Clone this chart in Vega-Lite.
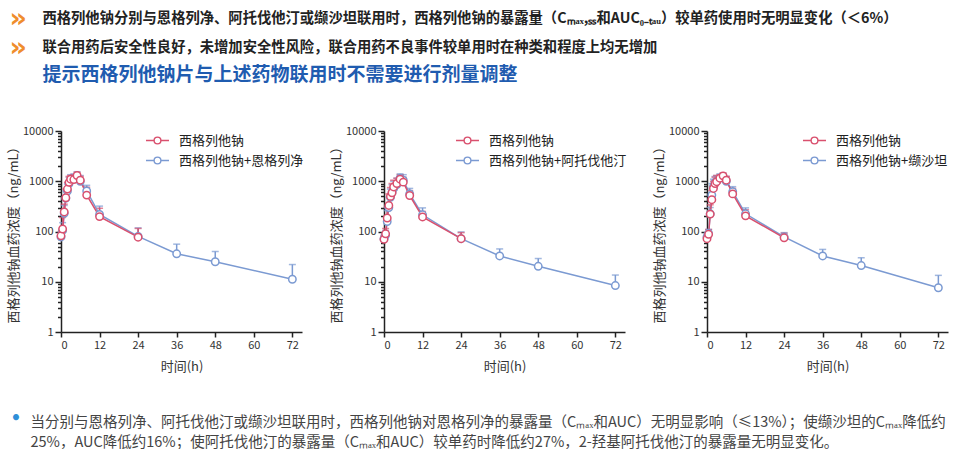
{
  "$schema": "https://vega.github.io/schema/vega-lite/v6.json",
  "padding": {"left": 7, "top": 4, "right": 0, "bottom": 0},
  "background": "white",
  "config": {
    "view": {"stroke": null},
    "font": "Noto Sans CJK SC",
    "axis": {
      "grid": false,
      "domainColor": "#222222",
      "domainWidth": 1.5,
      "tickColor": "#222222",
      "tickWidth": 1.5,
      "labelFont": "Noto Sans CJK SC",
      "labelFontSize": 11,
      "labelColor": "#333333",
      "titleFont": "Noto Sans CJK SC",
      "titleFontSize": 13,
      "titleFontWeight": "normal",
      "titleColor": "#333333"
    },
    "legend": {
      "orient": "none",
      "title": null,
      "symbolSize": 530,
      "symbolStrokeWidth": 1.3,
      "labelFont": "Noto Sans CJK SC",
      "labelFontSize": 13,
      "labelColor": "#222222",
      "labelOffset": 9,
      "rowPadding": -6,
      "padding": 0
    }
  },
  "datasets": {
    "pk": [
      {"p": 1, "g": "西格列他钠+恩格列净", "t": 0, "m": 78, "u": 92},
      {"p": 1, "g": "西格列他钠+恩格列净", "t": 0.5, "m": 105, "u": 150},
      {"p": 1, "g": "西格列他钠+恩格列净", "t": 1, "m": 230, "u": 330},
      {"p": 1, "g": "西格列他钠+恩格列净", "t": 1.5, "m": 460, "u": 640},
      {"p": 1, "g": "西格列他钠+恩格列净", "t": 2, "m": 640, "u": 880},
      {"p": 1, "g": "西格列他钠+恩格列净", "t": 2.5, "m": 900, "u": 1200},
      {"p": 1, "g": "西格列他钠+恩格列净", "t": 3, "m": 1050, "u": 1350},
      {"p": 1, "g": "西格列他钠+恩格列净", "t": 4, "m": 1120, "u": 1400},
      {"p": 1, "g": "西格列他钠+恩格列净", "t": 5, "m": 1250, "u": 1550},
      {"p": 1, "g": "西格列他钠+恩格列净", "t": 6, "m": 1000, "u": 1300},
      {"p": 1, "g": "西格列他钠+恩格列净", "t": 8, "m": 640, "u": 830},
      {"p": 1, "g": "西格列他钠+恩格列净", "t": 12, "m": 218, "u": 320},
      {"p": 1, "g": "西格列他钠+恩格列净", "t": 24, "m": 80, "u": 118},
      {"p": 1, "g": "西格列他钠+恩格列净", "t": 36, "m": 36, "u": 56},
      {"p": 1, "g": "西格列他钠+恩格列净", "t": 48, "m": 25, "u": 40},
      {"p": 1, "g": "西格列他钠+恩格列净", "t": 72, "m": 11.2, "u": 22},
      {"p": 1, "g": "西格列他钠", "t": 0, "m": 82, "u": 100},
      {"p": 1, "g": "西格列他钠", "t": 0.5, "m": 112, "u": 190},
      {"p": 1, "g": "西格列他钠", "t": 1, "m": 245, "u": 350},
      {"p": 1, "g": "西格列他钠", "t": 1.5, "m": 470, "u": 700},
      {"p": 1, "g": "西格列他钠", "t": 2, "m": 700, "u": 950},
      {"p": 1, "g": "西格列他钠", "t": 2.5, "m": 950, "u": 1250},
      {"p": 1, "g": "西格列他钠", "t": 3, "m": 1100, "u": 1300},
      {"p": 1, "g": "西格列他钠", "t": 4, "m": 1080, "u": 1350},
      {"p": 1, "g": "西格列他钠", "t": 5, "m": 1300, "u": 1500},
      {"p": 1, "g": "西格列他钠", "t": 6, "m": 1050, "u": 1250},
      {"p": 1, "g": "西格列他钠", "t": 8, "m": 530, "u": 760},
      {"p": 1, "g": "西格列他钠", "t": 12, "m": 198, "u": 290},
      {"p": 1, "g": "西格列他钠", "t": 24, "m": 77, "u": 115},
      {"p": 2, "g": "西格列他钠+阿托伐他汀", "t": 0, "m": 72, "u": 85},
      {"p": 2, "g": "西格列他钠+阿托伐他汀", "t": 0.5, "m": 85, "u": 105},
      {"p": 2, "g": "西格列他钠+阿托伐他汀", "t": 1, "m": 158, "u": 260},
      {"p": 2, "g": "西格列他钠+阿托伐他汀", "t": 1.5, "m": 300, "u": 480},
      {"p": 2, "g": "西格列他钠+阿托伐他汀", "t": 2, "m": 480, "u": 700},
      {"p": 2, "g": "西格列他钠+阿托伐他汀", "t": 2.5, "m": 600, "u": 850},
      {"p": 2, "g": "西格列他钠+阿托伐他汀", "t": 3, "m": 720, "u": 1000},
      {"p": 2, "g": "西格列他钠+阿托伐他汀", "t": 4, "m": 860, "u": 1150},
      {"p": 2, "g": "西格列他钠+阿托伐他汀", "t": 5, "m": 1150, "u": 1400},
      {"p": 2, "g": "西格列他钠+阿托伐他汀", "t": 6, "m": 1050, "u": 1350},
      {"p": 2, "g": "西格列他钠+阿托伐他汀", "t": 8, "m": 560, "u": 720},
      {"p": 2, "g": "西格列他钠+阿托伐他汀", "t": 12, "m": 215, "u": 295},
      {"p": 2, "g": "西格列他钠+阿托伐他汀", "t": 24, "m": 72, "u": 98},
      {"p": 2, "g": "西格列他钠+阿托伐他汀", "t": 36, "m": 32.6, "u": 45},
      {"p": 2, "g": "西格列他钠+阿托伐他汀", "t": 48, "m": 20.3, "u": 29},
      {"p": 2, "g": "西格列他钠+阿托伐他汀", "t": 72, "m": 8.4, "u": 13.6},
      {"p": 2, "g": "西格列他钠", "t": 0, "m": 70, "u": 82},
      {"p": 2, "g": "西格列他钠", "t": 0.5, "m": 90, "u": 115},
      {"p": 2, "g": "西格列他钠", "t": 1, "m": 185, "u": 300},
      {"p": 2, "g": "西格列他钠", "t": 1.5, "m": 330, "u": 560},
      {"p": 2, "g": "西格列他钠", "t": 2, "m": 500, "u": 750},
      {"p": 2, "g": "西格列他钠", "t": 2.5, "m": 590, "u": 900},
      {"p": 2, "g": "西格列他钠", "t": 3, "m": 770, "u": 1050},
      {"p": 2, "g": "西格列他钠", "t": 4, "m": 900, "u": 1150},
      {"p": 2, "g": "西格列他钠", "t": 5, "m": 1100, "u": 1350},
      {"p": 2, "g": "西格列他钠", "t": 6, "m": 960, "u": 1200},
      {"p": 2, "g": "西格列他钠", "t": 8, "m": 520, "u": 650},
      {"p": 2, "g": "西格列他钠", "t": 12, "m": 195, "u": 250},
      {"p": 2, "g": "西格列他钠", "t": 24, "m": 72, "u": 95},
      {"p": 3, "g": "西格列他钠+缬沙坦", "t": 0, "m": 78, "u": 92},
      {"p": 3, "g": "西格列他钠+缬沙坦", "t": 0.5, "m": 92, "u": 110},
      {"p": 3, "g": "西格列他钠+缬沙坦", "t": 1, "m": 225, "u": 300},
      {"p": 3, "g": "西格列他钠+缬沙坦", "t": 1.5, "m": 530, "u": 900},
      {"p": 3, "g": "西格列他钠+缬沙坦", "t": 2, "m": 780, "u": 1100},
      {"p": 3, "g": "西格列他钠+缬沙坦", "t": 2.5, "m": 950, "u": 1250},
      {"p": 3, "g": "西格列他钠+缬沙坦", "t": 3, "m": 1000, "u": 1300},
      {"p": 3, "g": "西格列他钠+缬沙坦", "t": 4, "m": 1150, "u": 1400},
      {"p": 3, "g": "西格列他钠+缬沙坦", "t": 5, "m": 1200, "u": 1450},
      {"p": 3, "g": "西格列他钠+缬沙坦", "t": 6, "m": 1000, "u": 1250},
      {"p": 3, "g": "西格列他钠+缬沙坦", "t": 8, "m": 620, "u": 780},
      {"p": 3, "g": "西格列他钠+缬沙坦", "t": 12, "m": 225, "u": 295},
      {"p": 3, "g": "西格列他钠+缬沙坦", "t": 24, "m": 78, "u": 95},
      {"p": 3, "g": "西格列他钠+缬沙坦", "t": 36, "m": 32.6, "u": 44},
      {"p": 3, "g": "西格列他钠+缬沙坦", "t": 48, "m": 21, "u": 30},
      {"p": 3, "g": "西格列他钠+缬沙坦", "t": 72, "m": 7.6, "u": 13.4},
      {"p": 3, "g": "西格列他钠", "t": 0, "m": 72, "u": 85},
      {"p": 3, "g": "西格列他钠", "t": 0.5, "m": 88, "u": 110},
      {"p": 3, "g": "西格列他钠", "t": 1, "m": 222, "u": 340},
      {"p": 3, "g": "西格列他钠", "t": 1.5, "m": 430, "u": 650},
      {"p": 3, "g": "西格列他钠", "t": 2, "m": 720, "u": 1000},
      {"p": 3, "g": "西格列他钠", "t": 2.5, "m": 900, "u": 1200},
      {"p": 3, "g": "西格列他钠", "t": 3, "m": 980, "u": 1300},
      {"p": 3, "g": "西格列他钠", "t": 4, "m": 1150, "u": 1350},
      {"p": 3, "g": "西格列他钠", "t": 5, "m": 1280, "u": 1450},
      {"p": 3, "g": "西格列他钠", "t": 6, "m": 1050, "u": 1250},
      {"p": 3, "g": "西格列他钠", "t": 8, "m": 560, "u": 720},
      {"p": 3, "g": "西格列他钠", "t": 12, "m": 205, "u": 270},
      {"p": 3, "g": "西格列他钠", "t": 24, "m": 75, "u": 92}
    ]
  },
  "title": {
    "text": ["»", "»"],
    "anchor": "start",
    "orient": "top",
    "font": "DejaVu Sans",
    "fontSize": 27,
    "fontWeight": "bold",
    "color": "#ef8d2d",
    "lineHeight": 29,
    "dx": 2,
    "offset": -50
  },
  "vconcat": [
    {
      "title": {
        "text": [
          "西格列他钠分别与恩格列净、阿托伐他汀或缬沙坦联用时，西格列他钠的暴露量（Cₘₐₓ,ₛₛ和AUC₀₋ₜₐᵤ）较单药使用时无明显变化（＜6%）",
          "联合用药后安全性良好，未增加安全性风险，联合用药不良事件较单用时在种类和程度上均无增加"
        ],
        "subtitle": "提示西格列他钠片与上述药物联用时不需要进行剂量调整",
        "anchor": "start",
        "orient": "top",
        "font": "Noto Sans CJK SC",
        "fontSize": 14.3,
        "fontWeight": "bold",
        "color": "#222222",
        "lineHeight": 29,
        "subtitleFont": "Noto Sans CJK SC",
        "subtitleFontSize": 19,
        "subtitleFontWeight": "bold",
        "subtitleColor": "#1f5cb0",
        "subtitlePadding": 11,
        "dx": 35,
        "offset": 40
      },
      "vconcat": [
        {
          "title": {
            "text": "•",
            "orient": "bottom",
            "anchor": "start",
            "font": "DejaVu Sans",
            "fontSize": 17,
            "color": "#2f8fd8",
            "dx": 3,
            "offset": -38
          },
          "vconcat": [
            {
              "title": {
                "text": [
                  "当分别与恩格列净、阿托伐他汀或缬沙坦联用时，西格列他钠对恩格列净的暴露量（Cₘₐₓ和AUC）无明显影响（≤13%）；使缬沙坦的Cₘₐₓ降低约",
                  "25%，AUC降低约16%；使阿托伐他汀的暴露量（Cₘₐₓ和AUC）较单药时降低约27%，2-羟基阿托伐他汀的暴露量无明显变化。"
                ],
                "orient": "bottom",
                "anchor": "start",
                "font": "Noto Sans CJK SC",
                "fontSize": 14.5,
                "fontWeight": "normal",
                "color": "#444444",
                "lineHeight": 19.5,
                "dx": 23,
                "offset": 43
              },
              "hconcat": [
                {
                  "width": 241,
                  "height": 201,
                  "data": {"name": "pk"},
                  "transform": [{"filter": "datum.p == 1"}],
                  "encoding": {
                    "x": {"field": "t", "type": "quantitative", "scale": {"domain": [0, 75], "nice": false, "zero": false},
                      "axis": {"values": [0, 12, 24, 36, 48, 60, 72], "title": "时间(h)", "tickSize": 5, "labelPadding": 2, "titlePadding": 10}},
                    "y": {"field": "m", "type": "quantitative", "title": "西格列他钠血药浓度（ng/mL）",
                      "scale": {"type": "log", "domain": [1, 10000], "nice": false},
                      "axis": {"values": [1,2,3,4,5,6,7,8,9,10,20,30,40,50,60,70,80,90,100,200,300,400,500,600,700,800,900,1000,2000,3000,4000,5000,6000,7000,8000,9000,10000],
                        "labelExpr": "indexof([1,10,100,1000,10000], datum.value) >= 0 ? format(datum.value, 'd') : ''",
                        "tickSize": {"condition": {"test": "indexof([1,10,100,1000,10000], datum.value) >= 0", "value": 6}, "value": 3.5},
                        "labelOverlap": false, "labelFlush": false, "labelPadding": 2, "titlePadding": 2}},
                    "color": {"field": "g", "type": "nominal",
                      "scale": {"domain": ["西格列他钠", "西格列他钠+恩格列净"], "range": ["#d9506e", "#7b9ad2"]},
                      "legend": {"legendX": 84, "legendY": -3,
                        "encode": {"symbols": {"update": {
                          "shape": {"value": "M-1,0L-0.3,0M0.3,0L1,0M0.3,0A0.3,0.3,0,1,1,-0.3,0A0.3,0.3,0,1,1,0.3,0M0.29,0A0.29,0.29,0,1,0,-0.29,0A0.29,0.29,0,1,0,0.29,0"},
                          "size": {"value": 530}, "strokeWidth": {"value": 1.3}, "opacity": {"value": 1}}}}}}
                  },
                  "layer": [
                    {"mark": {"type": "rule", "strokeWidth": 1.5}, "encoding": {"y2": {"field": "u"}}},
                    {"mark": {"type": "tick", "orient": "horizontal", "size": 7, "thickness": 1.5},
                      "encoding": {"y": {"field": "u", "type": "quantitative", "title": "西格列他钠血药浓度（ng/mL）"}}},
                    {"mark": {"type": "line", "strokeWidth": 1.5}},
                    {"mark": {"type": "point", "shape": "circle", "filled": false, "fill": "white", "size": 55, "strokeWidth": 1.5, "opacity": 1}}
                  ]
                },
                {
                  "width": 241,
                  "height": 201,
                  "data": {"name": "pk"},
                  "transform": [{"filter": "datum.p == 2"}],
                  "encoding": {
                    "x": {"field": "t", "type": "quantitative", "scale": {"domain": [0, 75], "nice": false, "zero": false},
                      "axis": {"values": [0, 12, 24, 36, 48, 60, 72], "title": "时间(h)", "tickSize": 5, "labelPadding": 2, "titlePadding": 10}},
                    "y": {"field": "m", "type": "quantitative", "title": "西格列他钠血药浓度（ng/mL）",
                      "scale": {"type": "log", "domain": [1, 10000], "nice": false},
                      "axis": {"values": [1,2,3,4,5,6,7,8,9,10,20,30,40,50,60,70,80,90,100,200,300,400,500,600,700,800,900,1000,2000,3000,4000,5000,6000,7000,8000,9000,10000],
                        "labelExpr": "indexof([1,10,100,1000,10000], datum.value) >= 0 ? format(datum.value, 'd') : ''",
                        "tickSize": {"condition": {"test": "indexof([1,10,100,1000,10000], datum.value) >= 0", "value": 6}, "value": 3.5},
                        "labelOverlap": false, "labelFlush": false, "labelPadding": 2, "titlePadding": 2}},
                    "color": {"field": "g", "type": "nominal",
                      "scale": {"domain": ["西格列他钠", "西格列他钠+阿托伐他汀"], "range": ["#d9506e", "#7b9ad2"]},
                      "legend": {"legendX": 71, "legendY": -3,
                        "encode": {"symbols": {"update": {
                          "shape": {"value": "M-1,0L-0.3,0M0.3,0L1,0M0.3,0A0.3,0.3,0,1,1,-0.3,0A0.3,0.3,0,1,1,0.3,0M0.29,0A0.29,0.29,0,1,0,-0.29,0A0.29,0.29,0,1,0,0.29,0"},
                          "size": {"value": 530}, "strokeWidth": {"value": 1.3}, "opacity": {"value": 1}}}}}}
                  },
                  "layer": [
                    {"mark": {"type": "rule", "strokeWidth": 1.5}, "encoding": {"y2": {"field": "u"}}},
                    {"mark": {"type": "tick", "orient": "horizontal", "size": 7, "thickness": 1.5},
                      "encoding": {"y": {"field": "u", "type": "quantitative", "title": "西格列他钠血药浓度（ng/mL）"}}},
                    {"mark": {"type": "line", "strokeWidth": 1.5}},
                    {"mark": {"type": "point", "shape": "circle", "filled": false, "fill": "white", "size": 55, "strokeWidth": 1.5, "opacity": 1}}
                  ]
                },
                {
                  "width": 241,
                  "height": 201,
                  "data": {"name": "pk"},
                  "transform": [{"filter": "datum.p == 3"}],
                  "encoding": {
                    "x": {"field": "t", "type": "quantitative", "scale": {"domain": [0, 75], "nice": false, "zero": false},
                      "axis": {"values": [0, 12, 24, 36, 48, 60, 72], "title": "时间(h)", "tickSize": 5, "labelPadding": 2, "titlePadding": 10}},
                    "y": {"field": "m", "type": "quantitative", "title": "西格列他钠血药浓度（ng/mL）",
                      "scale": {"type": "log", "domain": [1, 10000], "nice": false},
                      "axis": {"values": [1,2,3,4,5,6,7,8,9,10,20,30,40,50,60,70,80,90,100,200,300,400,500,600,700,800,900,1000,2000,3000,4000,5000,6000,7000,8000,9000,10000],
                        "labelExpr": "indexof([1,10,100,1000,10000], datum.value) >= 0 ? format(datum.value, 'd') : ''",
                        "tickSize": {"condition": {"test": "indexof([1,10,100,1000,10000], datum.value) >= 0", "value": 6}, "value": 3.5},
                        "labelOverlap": false, "labelFlush": false, "labelPadding": 2, "titlePadding": 2}},
                    "color": {"field": "g", "type": "nominal",
                      "scale": {"domain": ["西格列他钠", "西格列他钠+缬沙坦"], "range": ["#d9506e", "#7b9ad2"]},
                      "legend": {"legendX": 95, "legendY": -3,
                        "encode": {"symbols": {"update": {
                          "shape": {"value": "M-1,0L-0.3,0M0.3,0L1,0M0.3,0A0.3,0.3,0,1,1,-0.3,0A0.3,0.3,0,1,1,0.3,0M0.29,0A0.29,0.29,0,1,0,-0.29,0A0.29,0.29,0,1,0,0.29,0"},
                          "size": {"value": 530}, "strokeWidth": {"value": 1.3}, "opacity": {"value": 1}}}}}}
                  },
                  "layer": [
                    {"mark": {"type": "rule", "strokeWidth": 1.5}, "encoding": {"y2": {"field": "u"}}},
                    {"mark": {"type": "tick", "orient": "horizontal", "size": 7, "thickness": 1.5},
                      "encoding": {"y": {"field": "u", "type": "quantitative", "title": "西格列他钠血药浓度（ng/mL）"}}},
                    {"mark": {"type": "line", "strokeWidth": 1.5}},
                    {"mark": {"type": "point", "shape": "circle", "filled": false, "fill": "white", "size": 55, "strokeWidth": 1.5, "opacity": 1}}
                  ]
                }
              ],
              "spacing": 82,
              "bounds": "flush",
              "resolve": {"scale": {"color": "independent"}, "legend": {"color": "independent"}}
            }
          ]
        }
      ]
    }
  ]
}
